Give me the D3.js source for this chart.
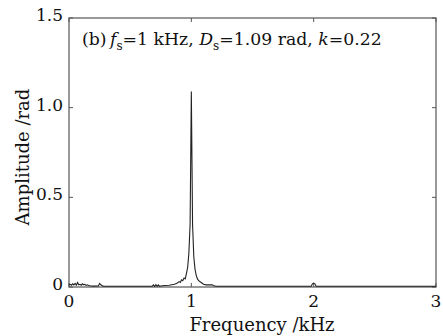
<!DOCTYPE html>
<html><head><meta charset="utf-8">
<script src="https://cdn.jsdelivr.net/npm/d3@7"></script>
<style>body{margin:0;background:#fff}svg text{font-family:"DejaVu Serif",serif;fill:#111}</style>
</head><body><svg id="c" width="443" height="336"></svg>
<script>
const freq = [0,0.01,0.02,0.03,0.04,0.05,0.06,0.07,0.08,0.09,0.1,0.11,0.12,0.13,0.14,0.15,0.16,0.18,0.2,0.24,0.25,0.26,0.27,0.28,0.3,0.5,0.68,0.69,0.7,0.71,0.72,0.73,0.74,0.75,0.78,0.82,0.86,0.88,0.9,0.91,0.92,0.93,0.94,0.95,0.96,0.97,0.98,0.99,1.0,1.01,1.02,1.03,1.04,1.05,1.06,1.08,1.1,1.12,1.17,1.18,1.2,1.5,1.98,1.99,2.0,2.01,2.02,2.5,3.0];
const amp  = [0.012,0.015,0.01,0.018,0.012,0.02,0.01,0.025,0.012,0.015,0.01,0.018,0.012,0.015,0.009,0.012,0.008,0.006,0.005,0.006,0.02,0.012,0.008,0.005,0.004,0.004,0.004,0.012,0.004,0.013,0.004,0.012,0.004,0.006,0.008,0.01,0.015,0.02,0.03,0.025,0.04,0.035,0.05,0.045,0.075,0.11,0.19,0.35,1.09,0.35,0.17,0.1,0.065,0.045,0.035,0.025,0.015,0.012,0.012,0.008,0.004,0.004,0.004,0.018,0.022,0.018,0.004,0.004,0.004];
const xTicks = [0,1,2,3];
const yTicks = [0,0.5,1.0,1.5];
const yTickLabels = ["0","0.5","1.0","1.5"];

const svg = d3.select("#c");
const L=69,R=436,T=18,B=287;
const x = d3.scaleLinear().domain([0,3]).range([L,R]);
const y = d3.scaleLinear().domain([0,1.5]).range([B,T]);
const FS = 18, TFS = 17;

svg.append("rect").attr("x",L).attr("y",T).attr("width",R-L).attr("height",B-T)
  .attr("fill","none").attr("stroke","#555").attr("stroke-width",1.2);

const g = svg.append("g");
xTicks.forEach(t=>{
  g.append("line").attr("x1",x(t)).attr("x2",x(t)).attr("y1",B).attr("y2",B-4).attr("stroke","#555");
  g.append("line").attr("x1",x(t)).attr("x2",x(t)).attr("y1",T).attr("y2",T+4).attr("stroke","#555");
  g.append("text").attr("x",x(t)).attr("y",B+20).attr("text-anchor","middle").attr("font-size",TFS).text(t);
});
yTicks.forEach((t,i)=>{
  g.append("line").attr("x1",L).attr("x2",L+4).attr("y1",y(t)).attr("y2",y(t)).attr("stroke","#555");
  g.append("line").attr("x1",R).attr("x2",R-4).attr("y1",y(t)).attr("y2",y(t)).attr("stroke","#555");
  g.append("text").attr("x",L-6).attr("y",y(t)+3).attr("text-anchor","end").attr("font-size",TFS).text(yTickLabels[i]);
});

svg.append("path").datum(freq.map((f,i)=>[f,amp[i]]))
  .attr("fill","none").attr("stroke","#222").attr("stroke-width",1.1)
  .attr("d", d3.line().x(d=>x(d[0])).y(d=>y(d[1])));

svg.append("text").attr("x",262).attr("y",331).attr("text-anchor","middle").attr("font-size",FS).text("Frequency /kHz");
svg.append("text").attr("transform","translate(29,157) rotate(-90)").attr("text-anchor","middle").attr("font-size",FS).text("Amplitude /rad");

const ann = svg.append("text").attr("x",82).attr("y",45).attr("font-size",17.3);
ann.append("tspan").text("(b)\u2009");
ann.append("tspan").attr("font-style","italic").text("f");
ann.append("tspan").attr("font-size",12).attr("dy",5).text("s");
ann.append("tspan").attr("dy",-5).text("=1 kHz, ");
ann.append("tspan").attr("font-style","italic").text("D");
ann.append("tspan").attr("font-size",12).attr("dy",5).text("s");
ann.append("tspan").attr("dy",-5).text("=1.09 rad, ");
ann.append("tspan").attr("font-style","italic").text("k");
ann.append("tspan").text("=0.22");
</script></body></html>
